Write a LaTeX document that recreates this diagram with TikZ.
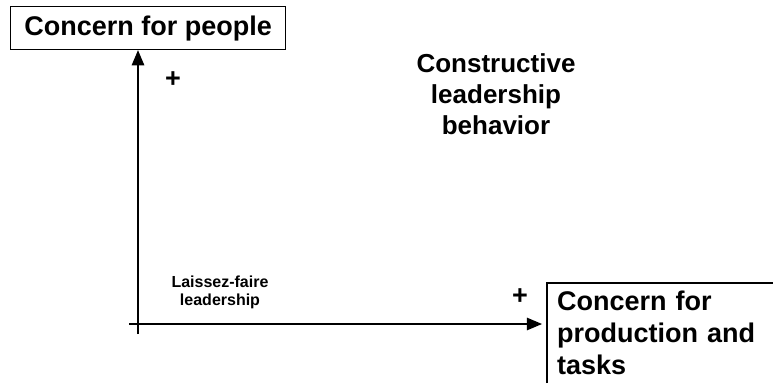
\documentclass[tikz,border=0pt]{standalone}
\usepackage{fontspec}
\setmainfont{Liberation Sans}
\usepackage{tikz}
\usetikzlibrary{arrows,
                positioning}
\tikzstyle{axis} = [line width=2.6pt,->,>=triangle 45]
\tikzstyle{title} = [font=\fontsize{27}{32}\selectfont\bfseries]

\begin{document}
\begin{tikzpicture}[x=1pt,y=-1pt]
    \useasboundingbox (0,0) rectangle (773,383);

    \node[title, draw, line width=1.2pt, anchor=north west, minimum width=275, minimum height=43, inner sep=0pt] (people) at (10,6) {Concern for people};
    \node[title, anchor=north west, align=left, text width=215, inner sep=0pt] (prod) at (557,291) {Concern for\\production and\\tasks};
    \coordinate (prodtl) at (547,283);
    \coordinate (prodtr) at (773,283);
    \coordinate (prodbl) at (547,383);
    \coordinate (o) at (138,324);
    \coordinate (ybot) at (138,334);
    \coordinate (xleft) at (129,324);

    \node[title, font=\fontsize{26}{31}\selectfont\bfseries, align=center] (constr) at (496,94) {Constructive\\leadership\\behavior};
    \node[font=\fontsize{16}{18}\selectfont\bfseries, align=center] (laissez) at (220,292) {Laissez-faire\\leadership};
    \node[title] (plusy) at (173,80) {+};
    \node[title] (plusx) at (520,297) {+};

    \draw [axis] (ybot) -- (people.south -| o);
    \draw [axis] (xleft) -- ([xshift=-5]prodtl |- o);
    \draw [line width=1.2pt] (prodbl) -- (prodtl) -- (prodtr);
\end{tikzpicture}
\end{document}
